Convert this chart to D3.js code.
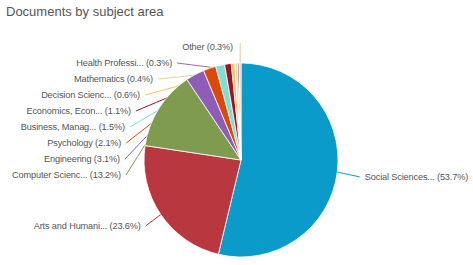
<!DOCTYPE html>
<html>
<head>
<meta charset="utf-8">
<script src="https://cdn.jsdelivr.net/npm/d3@7"></script>
<style>
  body { margin: 0; background: #fff; }
  text { font-family: "Liberation Sans", Arial, sans-serif; }
</style>
</head>
<body>
<svg id="draw"></svg>
<script>
// slices, clockwise from 12 o'clock
var categories = ["Social Sciences...", "Arts and Humani...", "Computer Scienc...", "Engineering",
  "Psychology", "Business, Manag...", "Economics, Econ...", "Decision Scienc...",
  "Mathematics", "Health Professi...", "Other"];
var percents = [53.7, 23.6, 13.2, 3.1, 2.1, 1.5, 1.1, 0.6, 0.4, 0.3, 0.3];
var colors = ["#0a9bca", "#b9383f", "#7f9b50", "#8e5db6", "#db4a0b", "#80ded6",
  "#9f1220", "#f1c766", "#ead3a2", "#a06f95", "#e2c9a6"];

var width = 473, height = 265;
var cx = 241, cy = 160, radius = 97;

var svg = d3.select("#draw")
  .attr("width", width)
  .attr("height", height);

svg.append("text")
  .attr("x", 6)
  .attr("y", 16)
  .attr("fill", "#555")
  .style("font-size", "13px")
  .text("Documents by subject area");

var data = categories.map(function(c, i) {
  return { name: c, value: percents[i], color: colors[i] };
});

var pie = d3.pie()
  .sort(null)
  .value(function(d) { return d.value; });

var arcs = pie(data);

var arc = d3.arc()
  .innerRadius(0)
  .outerRadius(radius);

var g = svg.append("g")
  .attr("transform", "translate(" + cx + "," + cy + ")");

// label placement: big slices follow their angle, small ones stack up on the left
var ax = 121, ay = 118;
var stackY = 15;
arcs.forEach(function(d, i) {
  var mid = (d.startAngle + d.endAngle) / 2;
  d.px = Math.sin(mid) * radius * 0.92;
  d.py = -Math.cos(mid) * radius * 0.92;
  if (d.data.value > 20) {
    d.side = Math.sin(mid) > 0 ? "right" : "left";
    d.ly = -Math.cos(mid) * ay + (d.side == "right" ? 3 : 0);
  } else if (i == arcs.length - 1) {
    d.side = "top";
    d.ly = -113;
  } else {
    d.side = "left";
    d.ly = stackY;
    stackY -= 16;
  }
  var k = Math.max(0, 1 - (d.ly * d.ly) / (ay * ay));
  d.lx = (d.side == "right" ? 1 : -1) * ax * Math.sqrt(k);
  if (d.side == "right") d.lx += 4;
  if (d.side == "top") d.lx = -8;
});

// leader lines go under the pie
g.selectAll(".leader")
  .data(arcs)
  .enter().append("path")
  .attr("class", "leader")
  .attr("fill", "none")
  .attr("stroke", function(d) { return d.data.color; })
  .attr("stroke-width", 1)
  .attr("d", function(d) {
    if (d.side == "top") {
      return "M" + d.px + "," + (d.ly - 4) + "L" + d.px + "," + d.py;
    }
    var sx = d.side == "right" ? d.lx - 5 : d.lx + 5;
    return "M" + sx + "," + d.ly + "L" + d.px + "," + d.py;
  });

g.selectAll(".slice")
  .data(arcs)
  .enter().append("path")
  .attr("class", "slice")
  .attr("d", arc)
  .attr("fill", function(d) { return d.data.color; })
  .attr("stroke", "#fff")
  .attr("stroke-width", 0.8);

g.selectAll(".label")
  .data(arcs)
  .enter().append("text")
  .attr("class", "label")
  .attr("x", function(d) { return d.lx; })
  .attr("y", function(d) { return d.ly; })
  .attr("dy", "0.35em")
  .attr("text-anchor", function(d) { return d.side == "right" ? "start" : "end"; })
  .attr("fill", "#555")
  .style("font-size", "9.2px")
  .style("letter-spacing", "-0.15px")
  .text(function(d) { return d.data.name + " (" + d.data.value.toFixed(1) + "%)"; });
</script>
</body>
</html>
